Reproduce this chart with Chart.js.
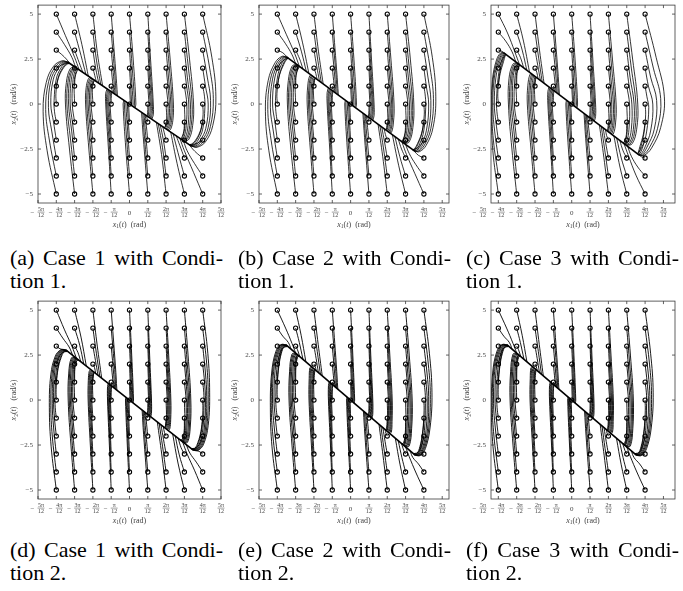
<!DOCTYPE html>
<html>
<head>
<meta charset="utf-8">
<script src="https://cdn.jsdelivr.net/npm/chart.js@4.4.1/dist/chart.umd.min.js"></script>
<style>
body { margin: 0; background: #fff; width: 683px; height: 591px; position: relative; overflow: hidden; }
canvas { position: absolute; }
.cap { position: absolute; width: 213px; font-family: "Liberation Serif", "Times New Roman", serif; font-size: 22px; line-height: 23px; color: #000; white-space: nowrap; }
.cap .l1 { text-align: justify; text-align-last: justify; }
</style>
</head>
<body>
<script>
// start grid, x in multiples of pi/12
let startX = [-4, -3, -2, -1, 0, 1, 2, 3, 4];
let startY = [5, 4, 3, 2, 1, 0, -1, -2, -3, -4, -5];

let xTickVals = [-5, -4, -3, -2, -1, 0, 1, 2, 3, 4, 5];
let xTickNum = ['5π', '4π', '3π', '2π', 'π', '0', 'π', '2π', '3π', '4π', '5π'];
let yTickVals = [-5, -2.5, 0, 2.5, 5];
let yTickText = ['−5', '−2.5', '0', '2.5', '5'];

let captions = [
  ['(a) Case 1 with Condi-', 'tion 1.'],
  ['(b) Case 2 with Condi-', 'tion 1.'],
  ['(c) Case 3 with Condi-', 'tion 1.'],
  ['(d) Case 1 with Condi-', 'tion 2.'],
  ['(e) Case 2 with Condi-', 'tion 2.'],
  ['(f) Case 3 with Condi-', 'tion 2.']
];

// trajectories: one entry per start point (column by column, rows 5 .. -5),
// each entry = waypoints after the start, [x, y, x, y, ...]
let pathsA = [
  [
    [-3.5,3.8,-3.0,2.6,-2.75,1.9],
    [-3.55,3.3,-3.15,2.6,-2.95,2.05],
    [-3.7,2.75,-3.45,2.5,-3.3,2.3],
    [-3.75,2.15,-3.5,2.25,-3.3,2.27],
    [-3.85,1.55,-3.6,2.02,-3.4,2.22,-3.27,2.25],
    [-4.02,0.6,-3.9,1.45,-3.66,2.0,-3.45,2.24,-3.28,2.26],
    [-4.1,-0.4,-4.12,0.2,-4.0,1.4,-3.75,2.0,-3.5,2.27,-3.3,2.28],
    [-4.15,-1.0,-4.3,0,-4.17,1.35,-3.85,2.03,-3.55,2.3,-3.33,2.3],
    [-4.25,-1.5,-4.43,-0.2,-4.3,1.3,-3.95,2.05,-3.6,2.33,-3.35,2.31],
    [-4.38,-2.0,-4.58,-0.3,-4.42,1.25,-4.05,2.08,-3.65,2.37,-3.38,2.33],
    [-4.5,-2.6,-4.72,-0.4,-4.55,1.2,-4.15,2.1,-3.7,2.4,-3.4,2.35]
  ],
  [
    [-2.6,3.3,-2.25,1.55],
    [-2.65,2.7,-2.38,1.64],
    [-2.75,2.3,-2.55,1.76],
    [-2.95,2.04],
    [-2.97,1.5,-2.88,1.8,-2.8,1.93],
    [-3.02,1.2,-2.92,1.8,-2.82,1.95],
    [-3.13,0,-3.1,1.2,-2.98,1.83,-2.85,1.97],
    [-3.12,-1.0,-3.24,0,-3.2,1.2,-3.05,1.87,-2.88,1.99],
    [-3.16,-1.5,-3.33,0,-3.29,1.2,-3.12,1.9,-2.92,2.01],
    [-3.22,-2.0,-3.42,0,-3.37,1.2,-3.18,1.92,-2.96,2.04],
    [-3.28,-2.5,-3.5,0,-3.45,1.2,-3.25,1.95,-3.0,2.07]
  ],
  [
    [-1.75,2.8,-1.47,1.01],
    [-1.8,2.4,-1.57,1.08],
    [-1.85,2.0,-1.68,1.16],
    [-1.9,1.6,-1.82,1.26],
    [-1.97,1.22,-1.91,1.32],
    [-2.03,0.9,-1.96,1.24,-1.9,1.31],
    [-2.1,0,-2.09,0.9,-2.01,1.27,-1.95,1.35],
    [-2.1,-1.0,-2.18,0,-2.16,0.9,-2.07,1.3,-2.0,1.38],
    [-2.13,-1.5,-2.26,0,-2.23,0.9,-2.13,1.33,-2.05,1.41],
    [-2.18,-2.0,-2.33,0,-2.3,0.9,-2.19,1.36,-2.1,1.45],
    [-2.22,-2.5,-2.4,0,-2.37,0.9,-2.25,1.4,-2.15,1.48]
  ],
  [
    [-0.75,1.8,-0.66,0.46],
    [-0.8,1.6,-0.73,0.5],
    [-0.85,1.3,-0.8,0.55],
    [-0.9,1.0,-0.86,0.59],
    [-0.93,0.64],
    [-1.0,0.3,-0.97,0.67],
    [-1.06,0,-1.05,0.4,-1.02,0.7],
    [-1.06,-1.0,-1.13,0,-1.12,0.45,-1.07,0.74],
    [-1.09,-1.5,-1.19,0,-1.18,0.5,-1.12,0.77],
    [-1.12,-2.0,-1.25,0,-1.24,0.55,-1.17,0.81],
    [-1.15,-2.5,-1.3,0,-1.3,0.6,-1.22,0.84]
  ],
  [
    [0.2,2.5,0.35,0,0.3,-0.21],
    [0.15,2.0,0.28,0,0.25,-0.17],
    [0.1,1.5,0.2,0,0.18,-0.12],
    [0.12,0,0.11,-0.08],
    [0.05,0,0.045,-0.03],
    [],
    [-0.05,0,-0.045,0.03],
    [-0.12,0,-0.11,0.08],
    [-0.1,-1.5,-0.2,0,-0.18,0.12],
    [-0.15,-2.0,-0.28,0,-0.25,0.17],
    [-0.2,-2.5,-0.35,0,-0.3,0.21]
  ],
  [
    [1.15,2.5,1.3,0,1.3,-0.6,1.22,-0.84],
    [1.12,2.0,1.25,0,1.24,-0.55,1.17,-0.81],
    [1.09,1.5,1.19,0,1.18,-0.5,1.12,-0.77],
    [1.06,1.0,1.13,0,1.12,-0.45,1.07,-0.74],
    [1.06,0,1.05,-0.4,1.02,-0.7],
    [1.0,-0.3,0.97,-0.67],
    [0.93,-0.64],
    [0.9,-1.0,0.86,-0.59],
    [0.85,-1.3,0.8,-0.55],
    [0.8,-1.6,0.73,-0.5],
    [0.75,-1.8,0.66,-0.46]
  ],
  [
    [2.22,2.5,2.4,0,2.37,-0.9,2.25,-1.4,2.15,-1.48],
    [2.18,2.0,2.33,0,2.3,-0.9,2.19,-1.36,2.1,-1.45],
    [2.13,1.5,2.26,0,2.23,-0.9,2.13,-1.33,2.05,-1.41],
    [2.1,1.0,2.18,0,2.16,-0.9,2.07,-1.3,2.0,-1.38],
    [2.1,0,2.09,-0.9,2.01,-1.27,1.95,-1.35],
    [2.03,-0.9,1.96,-1.24,1.9,-1.31],
    [1.97,-1.22,1.91,-1.32],
    [1.9,-1.6,1.82,-1.26],
    [1.85,-2.0,1.68,-1.16],
    [1.8,-2.4,1.57,-1.08],
    [1.75,-2.8,1.47,-1.01]
  ],
  [
    [3.28,2.5,3.5,0,3.45,-1.2,3.25,-1.95,3.0,-2.07],
    [3.22,2.0,3.42,0,3.37,-1.2,3.18,-1.92,2.96,-2.04],
    [3.16,1.5,3.33,0,3.29,-1.2,3.12,-1.9,2.92,-2.01],
    [3.12,1.0,3.24,0,3.2,-1.2,3.05,-1.87,2.88,-1.99],
    [3.13,0,3.1,-1.2,2.98,-1.83,2.85,-1.97],
    [3.02,-1.2,2.92,-1.8,2.82,-1.95],
    [2.97,-1.5,2.88,-1.8,2.8,-1.93],
    [2.95,-2.04],
    [2.75,-2.3,2.55,-1.76],
    [2.65,-2.7,2.38,-1.64],
    [2.6,-3.3,2.25,-1.55]
  ],
  [
    [4.5,2.6,4.72,0.4,4.55,-1.2,4.15,-2.1,3.7,-2.4,3.4,-2.35],
    [4.38,2.0,4.58,0.3,4.42,-1.25,4.05,-2.08,3.65,-2.37,3.38,-2.33],
    [4.25,1.5,4.43,0.2,4.3,-1.3,3.95,-2.05,3.6,-2.33,3.35,-2.31],
    [4.15,1.0,4.3,0,4.17,-1.35,3.85,-2.03,3.55,-2.3,3.33,-2.3],
    [4.1,0.4,4.12,-0.2,4.0,-1.4,3.75,-2.0,3.5,-2.27,3.3,-2.28],
    [4.02,-0.6,3.9,-1.45,3.66,-2.0,3.45,-2.24,3.28,-2.26],
    [3.85,-1.55,3.6,-2.02,3.4,-2.22,3.27,-2.25],
    [3.75,-2.15,3.5,-2.25,3.3,-2.27],
    [3.7,-2.75,3.45,-2.5,3.3,-2.3],
    [3.55,-3.3,3.15,-2.6,2.95,-2.05],
    [3.5,-3.8,3.0,-2.6,2.75,-1.9]
  ]
];

let pathsB = [
  [
    [-3.5,3.85,-3.05,2.8,-2.8,2.1],
    [-3.55,3.35,-3.2,2.75,-3.0,2.25],
    [-3.7,2.85,-3.5,2.65,-3.36,2.52],
    [-3.8,2.3,-3.55,2.5,-3.38,2.54],
    [-3.87,1.65,-3.65,2.2,-3.5,2.47,-3.39,2.54],
    [-4.02,0.6,-3.9,1.55,-3.69,2.2,-3.52,2.5,-3.4,2.55],
    [-4.08,-0.4,-4.1,0.2,-3.99,1.5,-3.77,2.22,-3.56,2.54,-3.42,2.56],
    [-4.13,-1.0,-4.26,0,-4.14,1.45,-3.86,2.24,-3.6,2.57,-3.44,2.58],
    [-4.22,-1.5,-4.38,-0.2,-4.26,1.4,-3.94,2.26,-3.65,2.6,-3.46,2.6],
    [-4.34,-2.0,-4.52,-0.3,-4.38,1.35,-4.03,2.28,-3.7,2.62,-3.48,2.61],
    [-4.46,-2.6,-4.65,-0.4,-4.5,1.3,-4.12,2.3,-3.75,2.65,-3.5,2.62]
  ],
  [
    [-2.62,3.4,-2.28,1.71],
    [-2.68,2.9,-2.42,1.82],
    [-2.78,2.5,-2.6,1.95],
    [-2.95,2.15,-2.88,2.16],
    [-2.97,1.6,-2.87,1.95,-2.77,2.08],
    [-3.02,1.3,-2.9,1.95,-2.78,2.09],
    [-3.12,0,-3.09,1.3,-2.96,1.97,-2.81,2.11],
    [-3.11,-1.0,-3.21,0,-3.18,1.3,-3.02,2.0,-2.84,2.13],
    [-3.15,-1.5,-3.3,0,-3.26,1.3,-3.08,2.04,-2.87,2.15],
    [-3.2,-2.0,-3.38,0,-3.33,1.3,-3.14,2.07,-2.91,2.18],
    [-3.26,-2.5,-3.45,0,-3.4,1.3,-3.2,2.1,-2.95,2.21]
  ],
  [
    [-1.75,2.9,-1.5,1.13],
    [-1.8,2.5,-1.6,1.2],
    [-1.85,2.1,-1.7,1.28],
    [-1.9,1.7,-1.83,1.37],
    [-1.97,1.3,-1.92,1.44],
    [-2.03,1.0,-1.96,1.4,-1.91,1.43],
    [-2.09,0,-2.07,1.0,-2.0,1.43,-1.95,1.46],
    [-2.09,-1.0,-2.16,0,-2.14,1.0,-2.06,1.47,-2.0,1.5],
    [-2.12,-1.5,-2.24,0,-2.21,1.0,-2.12,1.5,-2.04,1.53],
    [-2.16,-2.0,-2.3,0,-2.27,1.0,-2.17,1.54,-2.08,1.56],
    [-2.2,-2.5,-2.37,0,-2.34,1.0,-2.23,1.58,-2.12,1.59]
  ],
  [
    [-0.76,1.85,-0.67,0.5],
    [-0.8,1.65,-0.73,0.55],
    [-0.85,1.35,-0.8,0.6],
    [-0.9,1.05,-0.86,0.65],
    [-0.93,0.7],
    [-1.0,0.35,-0.97,0.73],
    [-1.05,0,-1.04,0.45,-1.01,0.76],
    [-1.05,-1.0,-1.12,0,-1.11,0.5,-1.06,0.8],
    [-1.08,-1.5,-1.18,0,-1.17,0.55,-1.11,0.83],
    [-1.11,-2.0,-1.23,0,-1.22,0.6,-1.16,0.87],
    [-1.14,-2.5,-1.28,0,-1.28,0.65,-1.21,0.91]
  ],
  [
    [0.18,2.5,0.32,0,0.28,-0.21],
    [0.14,2.0,0.26,0,0.23,-0.17],
    [0.09,1.5,0.18,0,0.16,-0.12],
    [0.11,0,0.1,-0.075],
    [0.05,0,0.045,-0.034],
    [],
    [-0.05,0,-0.045,0.034],
    [-0.11,0,-0.1,0.075],
    [-0.09,-1.5,-0.18,0,-0.16,0.12],
    [-0.14,-2.0,-0.26,0,-0.23,0.17],
    [-0.18,-2.5,-0.32,0,-0.28,0.21]
  ],
  [
    [1.14,2.5,1.28,0,1.28,-0.65,1.21,-0.91],
    [1.11,2.0,1.23,0,1.22,-0.6,1.16,-0.87],
    [1.08,1.5,1.18,0,1.17,-0.55,1.11,-0.83],
    [1.05,1.0,1.12,0,1.11,-0.5,1.06,-0.8],
    [1.05,0,1.04,-0.45,1.01,-0.76],
    [1.0,-0.35,0.97,-0.73],
    [0.93,-0.7],
    [0.9,-1.05,0.86,-0.65],
    [0.85,-1.35,0.8,-0.6],
    [0.8,-1.65,0.73,-0.55],
    [0.76,-1.85,0.67,-0.5]
  ],
  [
    [2.2,2.5,2.37,0,2.34,-1.0,2.23,-1.58,2.12,-1.59],
    [2.16,2.0,2.3,0,2.27,-1.0,2.17,-1.54,2.08,-1.56],
    [2.12,1.5,2.24,0,2.21,-1.0,2.12,-1.5,2.04,-1.53],
    [2.09,1.0,2.16,0,2.14,-1.0,2.06,-1.47,2.0,-1.5],
    [2.09,0,2.07,-1.0,2.0,-1.43,1.95,-1.46],
    [2.03,-1.0,1.96,-1.4,1.91,-1.43],
    [1.97,-1.3,1.92,-1.44],
    [1.9,-1.7,1.83,-1.37],
    [1.85,-2.1,1.7,-1.28],
    [1.8,-2.5,1.6,-1.2],
    [1.75,-2.9,1.5,-1.13]
  ],
  [
    [3.26,2.5,3.45,0,3.4,-1.3,3.2,-2.1,2.95,-2.21],
    [3.2,2.0,3.38,0,3.33,-1.3,3.14,-2.07,2.91,-2.18],
    [3.15,1.5,3.3,0,3.26,-1.3,3.08,-2.04,2.87,-2.15],
    [3.11,1.0,3.21,0,3.18,-1.3,3.02,-2.0,2.84,-2.13],
    [3.12,0,3.09,-1.3,2.96,-1.97,2.81,-2.11],
    [3.02,-1.3,2.9,-1.95,2.78,-2.09],
    [2.97,-1.6,2.87,-1.95,2.77,-2.08],
    [2.95,-2.15,2.88,-2.16],
    [2.78,-2.5,2.6,-1.95],
    [2.68,-2.9,2.42,-1.82],
    [2.62,-3.4,2.28,-1.71]
  ],
  [
    [4.46,2.6,4.65,0.4,4.5,-1.3,4.12,-2.3,3.75,-2.65,3.5,-2.62],
    [4.34,2.0,4.52,0.3,4.38,-1.35,4.03,-2.28,3.7,-2.62,3.48,-2.61],
    [4.22,1.5,4.38,0.2,4.26,-1.4,3.94,-2.26,3.65,-2.6,3.46,-2.6],
    [4.13,1.0,4.26,0,4.14,-1.45,3.86,-2.24,3.6,-2.57,3.44,-2.58],
    [4.08,0.4,4.1,-0.2,3.99,-1.5,3.77,-2.22,3.56,-2.54,3.42,-2.56],
    [4.02,-0.6,3.9,-1.55,3.69,-2.2,3.52,-2.5,3.4,-2.55],
    [3.87,-1.65,3.65,-2.2,3.5,-2.47,3.39,-2.54],
    [3.8,-2.3,3.55,-2.5,3.38,-2.54],
    [3.7,-2.85,3.5,-2.65,3.36,-2.52],
    [3.55,-3.35,3.2,-2.75,3.0,-2.25],
    [3.5,-3.85,3.05,-2.8,2.8,-2.1]
  ]
];

let pathsC = [
  [
    [-3.5,3.95,-3.1,2.9,-2.85,2.2],
    [-3.6,3.5,-3.25,2.9,-3.05,2.35],
    [-3.8,2.93,-3.62,2.79],
    [-3.82,2.4,-3.68,2.66,-3.58,2.76],
    [-3.9,1.7,-3.72,2.35,-3.63,2.68,-3.59,2.76],
    [-4.03,0.6,-3.94,1.6,-3.78,2.34,-3.66,2.7,-3.6,2.77],
    [-4.08,-0.4,-4.1,0.2,-4.0,1.55,-3.84,2.36,-3.7,2.74,-3.62,2.79],
    [-4.13,-1.0,-4.22,0,-4.13,1.5,-3.92,2.38,-3.74,2.77,-3.64,2.8],
    [-4.2,-1.5,-4.3,-0.2,-4.22,1.45,-3.98,2.4,-3.78,2.8,-3.66,2.82],
    [-4.27,-2.0,-4.35,-0.3,-4.28,1.4,-4.04,2.43,-3.82,2.83,-3.68,2.83],
    [-4.3,-2.6,-4.38,-0.4,-4.32,1.35,-4.1,2.45,-3.86,2.86,-3.7,2.85]
  ],
  [
    [-2.63,3.5,-2.3,1.77],
    [-2.7,3.0,-2.45,1.89],
    [-2.8,2.6,-2.62,2.02],
    [-2.96,2.2,-2.9,2.23],
    [-2.98,1.7,-2.89,2.05,-2.8,2.16],
    [-3.03,1.4,-2.93,2.05,-2.82,2.17],
    [-3.13,0,-3.1,1.4,-2.98,2.07,-2.85,2.19],
    [-3.11,-1.0,-3.22,0,-3.2,1.4,-3.05,2.1,-2.88,2.22],
    [-3.15,-1.5,-3.3,0,-3.27,1.4,-3.1,2.14,-2.92,2.25],
    [-3.2,-2.0,-3.38,0,-3.34,1.4,-3.16,2.17,-2.96,2.28],
    [-3.26,-2.5,-3.45,0,-3.42,1.4,-3.22,2.2,-3.0,2.31]
  ],
  [
    [-1.75,2.95,-1.51,1.16],
    [-1.8,2.55,-1.61,1.24],
    [-1.85,2.15,-1.71,1.32],
    [-1.9,1.75,-1.84,1.42],
    [-1.97,1.35,-1.93,1.49],
    [-2.03,1.05,-1.97,1.46,-1.92,1.48],
    [-2.1,0,-2.08,1.05,-2.01,1.5,-1.96,1.51],
    [-2.1,-1.0,-2.18,0,-2.16,1.05,-2.08,1.54,-2.02,1.56],
    [-2.13,-1.5,-2.27,0,-2.24,1.05,-2.14,1.58,-2.07,1.59],
    [-2.18,-2.0,-2.34,0,-2.31,1.05,-2.2,1.62,-2.12,1.63],
    [-2.22,-2.5,-2.42,0,-2.39,1.05,-2.27,1.66,-2.16,1.66]
  ],
  [
    [-0.76,1.9,-0.67,0.52],
    [-0.8,1.7,-0.73,0.56],
    [-0.85,1.4,-0.8,0.62],
    [-0.9,1.1,-0.86,0.66],
    [-0.93,0.72],
    [-1.0,0.38,-0.97,0.75],
    [-1.06,0,-1.05,0.5,-1.02,0.79],
    [-1.06,-1.0,-1.13,0,-1.12,0.55,-1.07,0.82],
    [-1.09,-1.5,-1.19,0,-1.18,0.6,-1.12,0.86],
    [-1.12,-2.0,-1.25,0,-1.24,0.65,-1.18,0.91],
    [-1.15,-2.5,-1.3,0,-1.3,0.7,-1.23,0.95]
  ],
  [
    [0.18,2.5,0.32,0,0.28,-0.22],
    [0.14,2.0,0.26,0,0.23,-0.18],
    [0.09,1.5,0.18,0,0.16,-0.12],
    [0.11,0,0.1,-0.077],
    [0.05,0,0.045,-0.035],
    [],
    [-0.05,0,-0.045,0.035],
    [-0.11,0,-0.1,0.077],
    [-0.09,-1.5,-0.18,0,-0.16,0.12],
    [-0.14,-2.0,-0.26,0,-0.23,0.18],
    [-0.18,-2.5,-0.32,0,-0.28,0.22]
  ],
  [
    [1.15,2.5,1.3,0,1.3,-0.7,1.23,-0.95],
    [1.12,2.0,1.25,0,1.24,-0.65,1.18,-0.91],
    [1.09,1.5,1.19,0,1.18,-0.6,1.12,-0.86],
    [1.06,1.0,1.13,0,1.12,-0.55,1.07,-0.82],
    [1.06,0,1.05,-0.5,1.02,-0.79],
    [1.0,-0.38,0.97,-0.75],
    [0.93,-0.72],
    [0.9,-1.1,0.86,-0.66],
    [0.85,-1.4,0.8,-0.62],
    [0.8,-1.7,0.73,-0.56],
    [0.76,-1.9,0.67,-0.52]
  ],
  [
    [2.22,2.5,2.42,0,2.39,-1.05,2.27,-1.66,2.16,-1.66],
    [2.18,2.0,2.34,0,2.31,-1.05,2.2,-1.62,2.12,-1.63],
    [2.13,1.5,2.27,0,2.24,-1.05,2.14,-1.58,2.07,-1.59],
    [2.1,1.0,2.18,0,2.16,-1.05,2.08,-1.54,2.02,-1.56],
    [2.1,0,2.08,-1.05,2.01,-1.5,1.96,-1.51],
    [2.03,-1.05,1.97,-1.46,1.92,-1.48],
    [1.97,-1.35,1.93,-1.49],
    [1.9,-1.75,1.84,-1.42],
    [1.85,-2.15,1.71,-1.32],
    [1.8,-2.55,1.61,-1.24],
    [1.75,-2.95,1.51,-1.16]
  ],
  [
    [3.32,2.5,3.6,0,3.54,-1.4,3.3,-2.2,3.0,-2.31],
    [3.25,2.0,3.5,0,3.45,-1.4,3.23,-2.17,2.96,-2.28],
    [3.18,1.5,3.4,0,3.36,-1.4,3.16,-2.14,2.92,-2.25],
    [3.13,1.0,3.28,0,3.25,-1.4,3.08,-2.1,2.88,-2.22],
    [3.15,0,3.12,-1.4,3.0,-2.07,2.85,-2.19],
    [3.03,-1.4,2.93,-2.05,2.82,-2.17],
    [2.98,-1.7,2.89,-2.05,2.8,-2.16],
    [2.96,-2.2,2.9,-2.23],
    [2.8,-2.6,2.62,-2.02],
    [2.7,-3.0,2.45,-1.89],
    [2.63,-3.5,2.3,-1.77]
  ],
  [
    [4.6,2.6,5.05,0.4,4.85,-1.3,4.35,-2.45,3.95,-2.85,3.7,-2.85],
    [4.45,2.0,4.85,0.3,4.68,-1.35,4.23,-2.43,3.9,-2.82,3.68,-2.83],
    [4.3,1.5,4.63,0.2,4.5,-1.4,4.1,-2.4,3.84,-2.8,3.66,-2.82],
    [4.18,1.0,4.42,0,4.3,-1.5,4.0,-2.38,3.78,-2.77,3.64,-2.8],
    [4.1,0.4,4.2,-0.2,4.08,-1.55,3.88,-2.36,3.72,-2.74,3.62,-2.79],
    [4.03,-0.6,3.94,-1.6,3.78,-2.34,3.66,-2.7,3.6,-2.77],
    [3.9,-1.7,3.72,-2.35,3.63,-2.68,3.59,-2.76],
    [3.82,-2.4,3.68,-2.66,3.58,-2.76],
    [3.8,-2.93,3.62,-2.79],
    [3.6,-3.5,3.25,-2.9,3.05,-2.35],
    [3.5,-3.95,3.1,-2.9,2.85,-2.2]
  ]
];

let pathsD = [
  [
    [-3.55,3.9,-3.15,3.0,-2.9,2.32],
    [-3.65,3.45,-3.3,2.95,-3.1,2.48],
    [-3.8,2.85,-3.55,2.78,-3.37,2.7],
    [-3.85,2.4,-3.65,2.65,-3.38,2.7],
    [-3.9,1.75,-3.74,2.35,-3.57,2.68,-3.39,2.71],
    [-4.01,0.6,-3.94,1.65,-3.78,2.35,-3.6,2.7,-3.4,2.72],
    [-4.06,-0.4,-4.07,0.2,-4.01,1.6,-3.84,2.37,-3.63,2.72,-3.42,2.74],
    [-4.1,-1.0,-4.15,0,-4.09,1.55,-3.9,2.39,-3.66,2.74,-3.44,2.75],
    [-4.15,-1.5,-4.22,-0.2,-4.16,1.5,-3.95,2.41,-3.69,2.76,-3.46,2.77],
    [-4.22,-2.0,-4.3,-0.3,-4.23,1.45,-4.0,2.43,-3.72,2.78,-3.48,2.78],
    [-4.28,-2.6,-4.38,-0.4,-4.3,1.4,-4.05,2.45,-3.75,2.8,-3.5,2.8]
  ],
  [
    [-2.65,3.5,-2.36,1.89],
    [-2.72,3.05,-2.5,2.0],
    [-2.82,2.65,-2.66,2.13],
    [-2.96,2.3,-2.9,2.32],
    [-2.98,1.8,-2.88,2.18,-2.76,2.21],
    [-3.02,1.5,-2.92,2.2,-2.78,2.22],
    [-3.09,0,-3.08,1.5,-2.97,2.22,-2.81,2.25],
    [-3.09,-1.0,-3.16,0,-3.14,1.5,-3.02,2.26,-2.84,2.27],
    [-3.12,-1.5,-3.23,0,-3.21,1.5,-3.07,2.29,-2.87,2.3],
    [-3.16,-2.0,-3.29,0,-3.27,1.5,-3.12,2.32,-2.91,2.33],
    [-3.2,-2.5,-3.35,0,-3.32,1.5,-3.17,2.35,-2.95,2.36]
  ],
  [
    [-1.76,3.0,-1.52,1.22],
    [-1.81,2.6,-1.62,1.3],
    [-1.86,2.2,-1.72,1.38],
    [-1.91,1.8,-1.85,1.48],
    [-1.97,1.4,-1.93,1.54],
    [-2.02,1.1,-1.97,1.45,-1.92,1.54],
    [-2.06,0,-2.05,1.1,-2.0,1.48,-1.96,1.57],
    [-2.06,-1.0,-2.11,0,-2.1,1.1,-2.05,1.51,-2.0,1.6],
    [-2.08,-1.5,-2.16,0,-2.15,1.1,-2.1,1.54,-2.04,1.63],
    [-2.11,-2.0,-2.21,0,-2.2,1.1,-2.15,1.57,-2.08,1.66],
    [-2.14,-2.5,-2.26,0,-2.25,1.1,-2.2,1.6,-2.12,1.7]
  ],
  [
    [-0.77,1.9,-0.69,0.55],
    [-0.81,1.7,-0.75,0.6],
    [-0.86,1.4,-0.81,0.65],
    [-0.91,1.1,-0.87,0.7],
    [-0.94,0.75],
    [-1.0,0.4,-0.98,0.78],
    [-1.04,0,-1.03,0.55,-1.01,0.81],
    [-1.04,-1.0,-1.09,0,-1.08,0.6,-1.05,0.84],
    [-1.06,-1.5,-1.13,0,-1.12,0.65,-1.08,0.86],
    [-1.08,-2.0,-1.17,0,-1.16,0.7,-1.12,0.9],
    [-1.1,-2.5,-1.2,0,-1.2,0.75,-1.16,0.93]
  ],
  [
    [0.12,2.5,0.22,0,0.2,-0.16],
    [0.1,2.0,0.18,0,0.16,-0.13],
    [0.07,1.5,0.13,0,0.12,-0.1],
    [0.08,0,0.07,-0.056],
    [0.03,0,0.03,-0.024],
    [],
    [-0.03,0,-0.03,0.024],
    [-0.08,0,-0.07,0.056],
    [-0.07,-1.5,-0.13,0,-0.12,0.1],
    [-0.1,-2.0,-0.18,0,-0.16,0.13],
    [-0.12,-2.5,-0.22,0,-0.2,0.16]
  ],
  [
    [1.1,2.5,1.2,0,1.2,-0.75,1.16,-0.93],
    [1.08,2.0,1.17,0,1.16,-0.7,1.12,-0.9],
    [1.06,1.5,1.13,0,1.12,-0.65,1.08,-0.86],
    [1.04,1.0,1.09,0,1.08,-0.6,1.05,-0.84],
    [1.04,0,1.03,-0.55,1.01,-0.81],
    [1.0,-0.4,0.98,-0.78],
    [0.94,-0.75],
    [0.91,-1.1,0.87,-0.7],
    [0.86,-1.4,0.81,-0.65],
    [0.81,-1.7,0.75,-0.6],
    [0.77,-1.9,0.69,-0.55]
  ],
  [
    [2.14,2.5,2.26,0,2.25,-1.1,2.2,-1.6,2.12,-1.7],
    [2.11,2.0,2.21,0,2.2,-1.1,2.15,-1.57,2.08,-1.66],
    [2.08,1.5,2.16,0,2.15,-1.1,2.1,-1.54,2.04,-1.63],
    [2.06,1.0,2.11,0,2.1,-1.1,2.05,-1.51,2.0,-1.6],
    [2.06,0,2.05,-1.1,2.0,-1.48,1.96,-1.57],
    [2.02,-1.1,1.97,-1.45,1.92,-1.54],
    [1.97,-1.4,1.93,-1.54],
    [1.91,-1.8,1.85,-1.48],
    [1.86,-2.2,1.72,-1.38],
    [1.81,-2.6,1.62,-1.3],
    [1.76,-3.0,1.52,-1.22]
  ],
  [
    [3.2,2.5,3.35,0,3.32,-1.5,3.17,-2.35,2.95,-2.36],
    [3.16,2.0,3.29,0,3.27,-1.5,3.12,-2.32,2.91,-2.33],
    [3.12,1.5,3.23,0,3.21,-1.5,3.07,-2.29,2.87,-2.3],
    [3.09,1.0,3.16,0,3.14,-1.5,3.02,-2.26,2.84,-2.27],
    [3.09,0,3.08,-1.5,2.97,-2.22,2.81,-2.25],
    [3.02,-1.5,2.92,-2.2,2.78,-2.22],
    [2.98,-1.8,2.88,-2.18,2.76,-2.21],
    [2.96,-2.3,2.9,-2.32],
    [2.82,-2.65,2.66,-2.13],
    [2.72,-3.05,2.5,-2.0],
    [2.65,-3.5,2.36,-1.89]
  ],
  [
    [4.28,2.6,4.38,0.4,4.3,-1.4,4.05,-2.45,3.75,-2.8,3.5,-2.8],
    [4.22,2.0,4.3,0.3,4.23,-1.45,4.0,-2.43,3.72,-2.78,3.48,-2.78],
    [4.15,1.5,4.22,0.2,4.16,-1.5,3.95,-2.41,3.69,-2.76,3.46,-2.77],
    [4.1,1.0,4.15,0,4.09,-1.55,3.9,-2.39,3.66,-2.74,3.44,-2.75],
    [4.06,0.4,4.07,-0.2,4.01,-1.6,3.84,-2.37,3.63,-2.72,3.42,-2.74],
    [4.01,-0.6,3.94,-1.65,3.78,-2.35,3.6,-2.7,3.4,-2.72],
    [3.9,-1.75,3.74,-2.35,3.57,-2.68,3.39,-2.71],
    [3.85,-2.4,3.65,-2.65,3.38,-2.7],
    [3.8,-2.85,3.55,-2.78,3.37,-2.7],
    [3.65,-3.45,3.3,-2.95,3.1,-2.48],
    [3.55,-3.9,3.15,-3.0,2.9,-2.32]
  ]
];

let pathsEF = [
  [
    [-3.55,4.0,-3.2,3.15,-3.0,2.61],
    [-3.7,3.55,-3.4,3.2,-3.25,2.83],
    [-3.85,3.05,-3.62,3.05,-3.42,2.98],
    [-3.86,2.55,-3.7,2.9,-3.43,2.98],
    [-3.92,1.85,-3.78,2.6,-3.62,2.96,-3.44,2.99],
    [-4.01,0.6,-3.95,1.75,-3.81,2.6,-3.65,2.98,-3.45,3.0],
    [-4.07,-0.4,-4.08,0.2,-4.03,1.7,-3.87,2.62,-3.68,3.0,-3.46,3.01],
    [-4.11,-1.0,-4.18,0,-4.12,1.65,-3.93,2.64,-3.71,3.02,-3.48,3.03],
    [-4.17,-1.5,-4.26,-0.2,-4.2,1.6,-3.98,2.66,-3.74,3.04,-3.5,3.05],
    [-4.24,-2.0,-4.33,-0.3,-4.26,1.55,-4.03,2.68,-3.77,3.06,-3.52,3.06],
    [-4.29,-2.6,-4.38,-0.4,-4.31,1.5,-4.08,2.7,-3.8,3.08,-3.54,3.08]
  ],
  [
    [-2.7,3.6,-2.44,2.12],
    [-2.8,3.2,-2.6,2.26],
    [-2.9,2.8,-2.78,2.42],
    [-2.96,2.4,-2.88,2.5],
    [-2.98,1.9,-2.89,2.38,-2.8,2.44],
    [-3.02,1.6,-2.93,2.4,-2.82,2.45],
    [-3.09,0,-3.08,1.6,-2.99,2.42,-2.85,2.48],
    [-3.09,-1.0,-3.17,0,-3.15,1.6,-3.05,2.46,-2.88,2.51],
    [-3.12,-1.5,-3.24,0,-3.22,1.6,-3.1,2.49,-2.92,2.54],
    [-3.16,-2.0,-3.3,0,-3.28,1.6,-3.15,2.52,-2.96,2.58],
    [-3.2,-2.5,-3.36,0,-3.33,1.6,-3.2,2.55,-3.0,2.61]
  ],
  [
    [-1.77,3.1,-1.55,1.35],
    [-1.82,2.7,-1.65,1.44],
    [-1.88,2.3,-1.76,1.53],
    [-1.93,1.85,-1.88,1.64],
    [-1.97,1.5,-1.93,1.68],
    [-2.02,1.2,-1.98,1.64,-1.93,1.68],
    [-2.06,0,-2.05,1.2,-2.01,1.68,-1.97,1.71],
    [-2.06,-1.0,-2.11,0,-2.1,1.2,-2.07,1.71,-2.01,1.75],
    [-2.08,-1.5,-2.17,0,-2.16,1.2,-2.12,1.74,-2.05,1.78],
    [-2.11,-2.0,-2.22,0,-2.21,1.2,-2.17,1.77,-2.09,1.82],
    [-2.14,-2.5,-2.27,0,-2.26,1.2,-2.22,1.8,-2.13,1.85]
  ],
  [
    [-0.78,1.95,-0.7,0.61],
    [-0.82,1.75,-0.76,0.66],
    [-0.87,1.45,-0.82,0.71],
    [-0.92,1.15,-0.88,0.77],
    [-0.95,0.83],
    [-1.0,0.45,-0.98,0.85],
    [-1.04,0,-1.03,0.6,-1.01,0.88],
    [-1.04,-1.0,-1.09,0,-1.09,0.65,-1.06,0.92],
    [-1.06,-1.5,-1.13,0,-1.13,0.7,-1.09,0.95],
    [-1.08,-2.0,-1.17,0,-1.17,0.75,-1.13,0.98],
    [-1.1,-2.5,-1.21,0,-1.21,0.8,-1.17,1.02]
  ],
  [
    [0.12,2.5,0.22,0,0.2,-0.17],
    [0.1,2.0,0.18,0,0.16,-0.14],
    [0.07,1.5,0.13,0,0.12,-0.1],
    [0.08,0,0.07,-0.06],
    [0.03,0,0.03,-0.026],
    [],
    [-0.03,0,-0.03,0.026],
    [-0.08,0,-0.07,0.06],
    [-0.07,-1.5,-0.13,0,-0.12,0.1],
    [-0.1,-2.0,-0.18,0,-0.16,0.14],
    [-0.12,-2.5,-0.22,0,-0.2,0.17]
  ],
  [
    [1.1,2.5,1.21,0,1.21,-0.8,1.17,-1.02],
    [1.08,2.0,1.17,0,1.17,-0.75,1.13,-0.98],
    [1.06,1.5,1.13,0,1.13,-0.7,1.09,-0.95],
    [1.04,1.0,1.09,0,1.09,-0.65,1.06,-0.92],
    [1.04,0,1.03,-0.6,1.01,-0.88],
    [1.0,-0.45,0.98,-0.85],
    [0.95,-0.83],
    [0.92,-1.15,0.88,-0.77],
    [0.87,-1.45,0.82,-0.71],
    [0.82,-1.75,0.76,-0.66],
    [0.78,-1.95,0.7,-0.61]
  ],
  [
    [2.14,2.5,2.27,0,2.26,-1.2,2.22,-1.8,2.13,-1.85],
    [2.11,2.0,2.22,0,2.21,-1.2,2.17,-1.77,2.09,-1.82],
    [2.08,1.5,2.17,0,2.16,-1.2,2.12,-1.74,2.05,-1.78],
    [2.06,1.0,2.11,0,2.1,-1.2,2.07,-1.71,2.01,-1.75],
    [2.06,0,2.05,-1.2,2.01,-1.68,1.97,-1.71],
    [2.02,-1.2,1.98,-1.64,1.93,-1.68],
    [1.97,-1.5,1.93,-1.68],
    [1.93,-1.85,1.88,-1.64],
    [1.88,-2.3,1.76,-1.53],
    [1.82,-2.7,1.65,-1.44],
    [1.77,-3.1,1.55,-1.35]
  ],
  [
    [3.2,2.5,3.36,0,3.33,-1.6,3.2,-2.55,3.0,-2.61],
    [3.16,2.0,3.3,0,3.28,-1.6,3.15,-2.52,2.96,-2.58],
    [3.12,1.5,3.24,0,3.22,-1.6,3.1,-2.49,2.92,-2.54],
    [3.09,1.0,3.17,0,3.15,-1.6,3.05,-2.46,2.88,-2.51],
    [3.09,0,3.08,-1.6,2.99,-2.42,2.85,-2.48],
    [3.02,-1.6,2.93,-2.4,2.82,-2.45],
    [2.98,-1.9,2.89,-2.38,2.8,-2.44],
    [2.96,-2.4,2.88,-2.5],
    [2.9,-2.8,2.78,-2.42],
    [2.8,-3.2,2.6,-2.26],
    [2.7,-3.6,2.44,-2.12]
  ],
  [
    [4.3,2.6,4.44,0.4,4.34,-1.5,4.08,-2.7,3.8,-3.08,3.54,-3.08],
    [4.24,2.0,4.35,0.3,4.27,-1.55,4.03,-2.68,3.77,-3.06,3.52,-3.06],
    [4.17,1.5,4.26,0.2,4.2,-1.6,3.98,-2.66,3.74,-3.04,3.5,-3.05],
    [4.11,1.0,4.18,0,4.12,-1.65,3.93,-2.64,3.71,-3.02,3.48,-3.03],
    [4.07,0.4,4.08,-0.2,4.03,-1.7,3.87,-2.62,3.68,-3.0,3.46,-3.01],
    [4.01,-0.6,3.95,-1.75,3.81,-2.6,3.65,-2.98,3.45,-3.0],
    [3.92,-1.85,3.78,-2.6,3.62,-2.96,3.44,-2.99],
    [3.86,-2.55,3.7,-2.9,3.43,-2.98],
    [3.85,-3.05,3.62,-3.05,3.42,-2.98],
    [3.7,-3.55,3.4,-3.2,3.25,-2.83],
    [3.55,-4.0,3.2,-3.15,3.0,-2.61]
  ]
];

// sliding line through the origin, ends read per panel
let slideA = [[-3.4, 2.35], [0, 0], [3.4, -2.35]];
let slideB = [[-3.5, 2.62], [0, 0], [3.5, -2.62]];
let slideC = [[-3.7, 2.85], [0, 0], [3.7, -2.85]];
let slideD = [[-3.5, 2.8], [0, 0], [3.5, -2.8]];
let slideEF = [[-3.54, 3.08], [0, 0], [3.54, -3.08]];

// panel boxes in the page [left, top, width, height] and x limits
let boxes = [[38, 4, 183, 199], [259, 4, 190, 199], [491, 4, 184, 199],
             [38, 300, 183, 199], [259, 300, 190, 199], [491, 300, 184, 199]];
let xRanges = [[-5, 5], [-5, 5.37], [-4.4, 5.63], [-5, 5], [-5, 5.37], [-4.4, 5.63]];
let allPaths = [pathsA, pathsB, pathsC, pathsD, pathsEF, pathsEF];
let allSlides = [slideA, slideB, slideC, slideD, slideEF, slideEF];
let capLeft = [10, 238, 466];
let capTop = [246, 538];

let padL = 42, padT = 4, padR = 10, padB = 30;
let serif = '"Liberation Serif", "Times New Roman", serif';

let axesPlugin = {
  id: 'axesPlugin',
  afterDraw(chart) {
    let ctx = chart.ctx;
    let a = chart.chartArea;
    let xs = chart.scales.x, ys = chart.scales.y;
    ctx.save();
    ctx.strokeStyle = '#3a3a3a';
    ctx.lineWidth = 0.8;
    ctx.strokeRect(a.left, a.top, a.right - a.left, a.bottom - a.top);
    ctx.beginPath();
    yTickVals.forEach(v => {
      let py = ys.getPixelForValue(v);
      ctx.moveTo(a.left, py); ctx.lineTo(a.left + 3, py);
      ctx.moveTo(a.right, py); ctx.lineTo(a.right - 3, py);
    });
    xTickVals.forEach(v => {
      if (v < xs.min || v > xs.max) return;
      let px = xs.getPixelForValue(v);
      ctx.moveTo(px, a.bottom); ctx.lineTo(px, a.bottom - 3);
      ctx.moveTo(px, a.top); ctx.lineTo(px, a.top + 3);
    });
    ctx.stroke();

    ctx.fillStyle = '#444';
    ctx.font = '7px ' + serif;
    ctx.textAlign = 'right';
    ctx.textBaseline = 'middle';
    yTickVals.forEach((v, i) => ctx.fillText(yTickText[i], a.left - 5, ys.getPixelForValue(v)));

    ctx.textAlign = 'center';
    ctx.textBaseline = 'alphabetic';
    xTickVals.forEach((v, i) => {
      let px = xs.getPixelForValue(v);
      if (v === 0) {
        ctx.font = '7px ' + serif;
        ctx.fillText('0', px, a.bottom + 11.5);
        return;
      }
      let fx = v < 0 ? px + 3 : px;
      ctx.font = '6px ' + serif;
      ctx.fillText(xTickNum[i], fx, a.bottom + 7.5);
      ctx.fillText('12', fx, a.bottom + 14);
      ctx.fillRect(fx - 3.5, a.bottom + 8.8, 7, 0.5);
      if (v < 0) {
        ctx.font = '7px ' + serif;
        ctx.fillText('−', px - 5.5, a.bottom + 11.5);
      }
    });

    // axis titles
    let cx = (a.left + a.right) / 2;
    ctx.textAlign = 'left';
    ctx.font = 'italic 8px ' + serif;
    let w1 = ctx.measureText('x').width;
    ctx.font = '5.5px ' + serif;
    let w2 = ctx.measureText('1').width;
    ctx.font = '8px ' + serif;
    let w3 = ctx.measureText('(').width;
    ctx.font = 'italic 8px ' + serif;
    let w4 = ctx.measureText('t').width;
    ctx.font = '8px ' + serif;
    let w5 = ctx.measureText(')  (rad)').width;
    let drawTitle = (sub, tail, x0, y0) => {
      ctx.font = 'italic 8px ' + serif; ctx.fillText('x', x0, y0); x0 += w1;
      ctx.font = '5.5px ' + serif; ctx.fillText(sub, x0, y0 + 1.5); x0 += w2;
      ctx.font = '8px ' + serif; ctx.fillText('(', x0, y0); x0 += w3;
      ctx.font = 'italic 8px ' + serif; ctx.fillText('t', x0, y0); x0 += w4;
      ctx.font = '8px ' + serif; ctx.fillText(tail, x0, y0);
    };
    let tw = w1 + w2 + w3 + w4 + w5;
    drawTitle('1', ')  (rad)', cx - tw / 2, a.bottom + 23.5);

    ctx.font = '8px ' + serif;
    let tw2 = w1 + w2 + w3 + w4 + ctx.measureText(')   (rad/s)').width;
    ctx.translate(a.left - 22, (a.top + a.bottom) / 2);
    ctx.rotate(-Math.PI / 2);
    drawTitle('2', ')   (rad/s)', -tw2 / 2, 0);
    ctx.restore();
  }
};

let buildDatasets = (paths, slide, lineW) => {
  let sets = [];
  let marks = [];
  startX.forEach(sx => startY.forEach(sy => marks.push({x: sx, y: sy})));
  sets.push({
    data: marks, showLine: false, pointRadius: 2.1, pointBorderWidth: 1.1,
    pointBorderColor: '#000', pointBackgroundColor: 'rgba(255,255,255,0)'
  });
  sets.push({
    data: slide.map(p => ({x: p[0], y: p[1]})), showLine: true,
    borderColor: '#000', borderWidth: 1.6, pointRadius: 0
  });
  paths.forEach((col, c) => col.forEach((rest, r) => {
    let pts = [{x: startX[c], y: startY[r]}];
    for (let i = 0; i < rest.length; i += 2) pts.push({x: rest[i], y: rest[i + 1]});
    sets.push({
      data: pts, showLine: true, borderColor: '#000', borderWidth: lineW,
      pointRadius: 0, tension: 0.4
    });
  }));
  return sets;
};

boxes.forEach((b, i) => {
  let cv = document.createElement('canvas');
  cv.width = b[2] + padL + padR;
  cv.height = b[3] + padT + padB;
  cv.style.left = (b[0] - padL) + 'px';
  cv.style.top = (b[1] - padT) + 'px';
  document.body.appendChild(cv);
  new Chart(cv.getContext('2d'), {
    type: 'scatter',
    data: {datasets: buildDatasets(allPaths[i], allSlides[i], i < 3 ? 0.8 : 0.9)},
    options: {
      responsive: false,
      animation: false,
      events: [],
      devicePixelRatio: 1,
      layout: {padding: {left: padL, top: padT, right: padR, bottom: padB}},
      plugins: {legend: {display: false}, tooltip: {enabled: false}},
      scales: {
        x: {type: 'linear', min: xRanges[i][0], max: xRanges[i][1], display: false},
        y: {type: 'linear', min: -5.5, max: 5.5, display: false}
      }
    },
    plugins: [axesPlugin]
  });

  let cap = document.createElement('div');
  cap.className = 'cap';
  cap.style.left = capLeft[i % 3] + 'px';
  cap.style.top = capTop[Math.floor(i / 3)] + 'px';
  cap.innerHTML = '<div class="l1">' + captions[i][0] + '</div><div>' + captions[i][1] + '</div>';
  document.body.appendChild(cap);
});
</script>
</body>
</html>
